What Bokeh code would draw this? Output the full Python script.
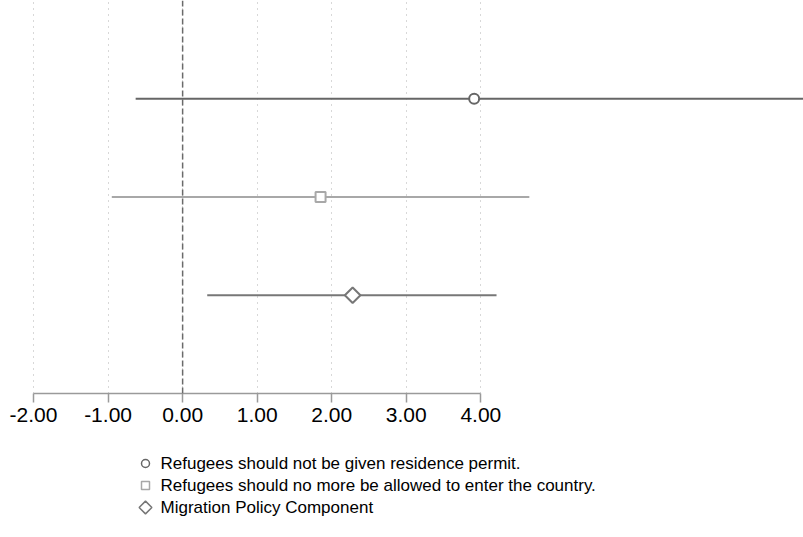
import math
from bokeh.plotting import figure
from bokeh.layouts import column
from bokeh.models import (ColumnDataSource, Range1d, FixedTicker, PrintfTickFormatter, Span)
from bokeh.core.properties import value
from bokeh.embed import file_html
from bokeh.resources import INLINE

# Coefficient estimates with confidence intervals
labels = [
    "Refugees should not be given residence permit.",
    "Refugees should no more be allowed to enter the country.",
    "Migration Policy Component",
]
estimates = [3.91, 1.85, 2.28]
ci_low = [-0.63, -0.95, 0.33]
ci_high = [8.60, 4.65, 4.21]
rows = [3, 2, 1]
colors = ["#666666", "#a8a8a8", "#777777"]
# the diamond is a square turned by 45 degrees
markers = ["circle", "square", "square"]
marker_angles = [0, 0, math.pi / 4]
marker_sizes = [10, 10, 11]
x_ticks = [-2, -1, 0, 1, 2, 3, 4]

FONT = "Liberation Sans"
W = 803
PLOT_H = 440
KEY_H = 537 - PLOT_H

p = figure(width=W, height=PLOT_H, output_backend="svg", toolbar_location=None,
           x_range=Range1d(-2.4426, 8.327), y_range=Range1d(0, 4),
           y_axis_location=None, min_border_left=0, min_border_right=0,
           min_border_top=0, min_border_bottom=PLOT_H - 393)
p.outline_line_color = None

# vertical dotted grid, no horizontal grid
p.ygrid.visible = False
p.xgrid.ticker = FixedTicker(ticks=x_ticks)
p.xgrid.grid_line_color = "#b0b0b0"
p.xgrid.grid_line_dash = "1 5"
p.xgrid.grid_line_width = 1

# reference line at zero
p.add_layout(Span(location=0, dimension="height", line_color="#6a6a6a",
                  line_dash="6 3", line_width=1.5))

ax = p.xaxis[0]
ax.ticker = FixedTicker(ticks=x_ticks)
ax.bounds = (-2, 4)
ax.formatter = PrintfTickFormatter(format="%.2f")
ax.axis_line_color = "#9a9a9a"
ax.axis_line_width = 1.5
ax.major_tick_line_color = "#9a9a9a"
ax.major_tick_line_width = 1.5
ax.major_tick_out = 9
ax.major_tick_in = 0
ax.minor_tick_line_color = None
ax.major_label_text_font = FONT
ax.major_label_text_font_size = "21px"
ax.major_label_text_color = "black"
ax.major_label_standoff = 5

for i in range(len(labels)):
    src = ColumnDataSource(dict(y=[rows[i]], est=[estimates[i]],
                                lo=[ci_low[i]], hi=[ci_high[i]]))
    p.segment(x0="lo", x1="hi", y0="y", y1="y", source=src,
              line_color=colors[i], line_width=2)
    p.scatter(x="est", y="y", source=src, marker=markers[i],
              angle=marker_angles[i], size=marker_sizes[i], fill_color="white",
              line_color=colors[i], line_width=2)

# key panel underneath: pixel coordinates, y measured from the top
q = figure(width=W, height=KEY_H, output_backend="svg", toolbar_location=None,
           x_range=Range1d(0, W), y_range=Range1d(KEY_H, 0),
           x_axis_location=None, y_axis_location=None,
           min_border_left=0, min_border_right=0, min_border_top=0,
           min_border_bottom=0)
q.outline_line_color = None
q.grid.visible = False

key_x = 145
key_y = [23 + 22 * k for k in range(len(labels))]
for i in range(len(labels)):
    q.scatter(x=[key_x], y=[key_y[i]], marker=markers[i],
              angle=marker_angles[i], size=marker_sizes[i] - 2,
              fill_color="white", line_color=colors[i], line_width=1.5)
q.text(x=[key_x + 15] * len(labels), y=key_y, text=labels,
       text_font=value(FONT), text_font_size="17px", text_color="black",
       text_baseline="middle", text_align="left")

layout = column(p, q, spacing=0)
open("out.html", "w").write(file_html(layout, INLINE))
